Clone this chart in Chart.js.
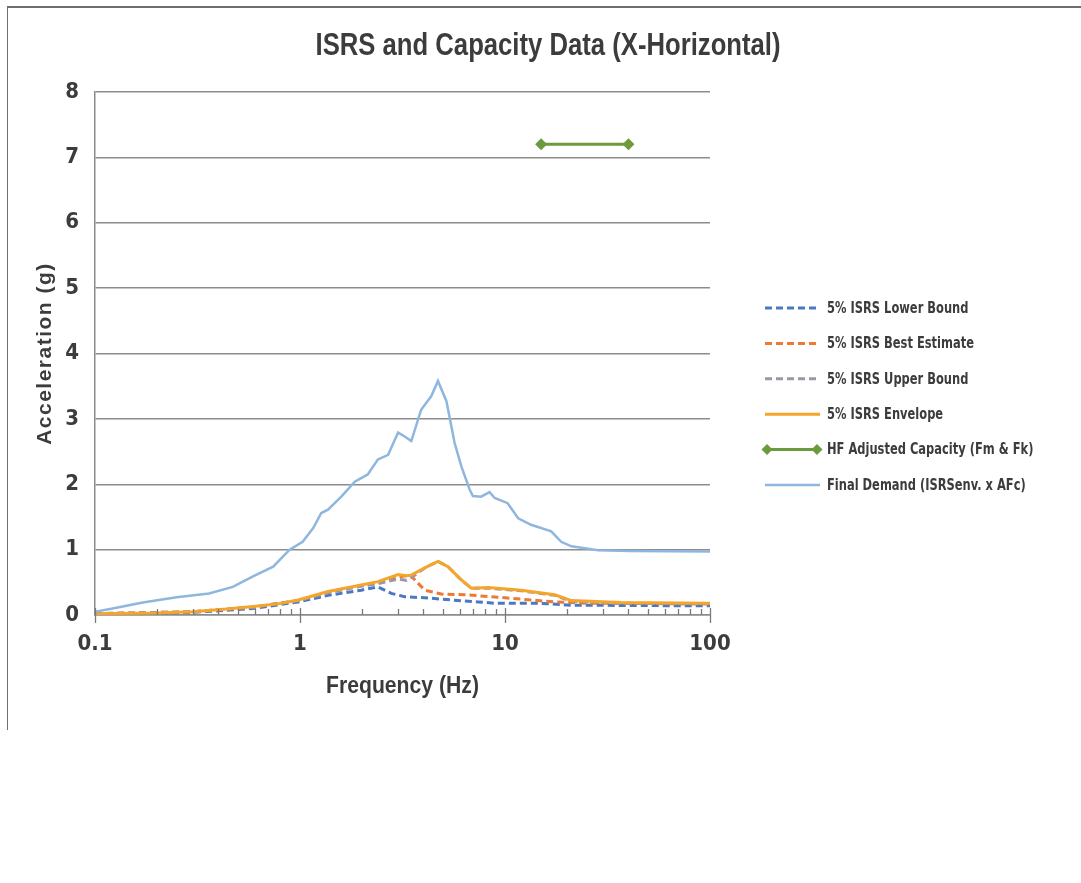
<!DOCTYPE html>
<html>
<head>
<meta charset="utf-8">
<title>ISRS and Capacity Data (X-Horizontal)</title>
<script src="https://cdn.jsdelivr.net/npm/chart.js@4.4.1/dist/chart.umd.min.js"></script>
<style>
  html, body { margin: 0; padding: 0; background: #ffffff; }
  #wrap { position: relative; width: 1081px; height: 883px; overflow: hidden; }
  #frame {
    position: absolute; left: 7px; top: 6px; width: 1074px; height: 724px;
    border-left: 1.5px solid #6e6e6e; border-top: 2px solid #6e6e6e; box-sizing: border-box;
  }
  #c { position: absolute; left: 0; top: 0; }
</style>
</head>
<body>
<div id="wrap">
  <div id="frame"></div>
  <canvas id="c" width="1081" height="883"></canvas>
</div>
<script>
// ---- labels ----
const chartTitle = 'ISRS and Capacity Data (X-Horizontal)';
const xAxisTitle = 'Frequency (Hz)';
const yAxisTitle = 'Acceleration (g)';
const xTickValues = [0.1, 1, 10, 100];
const yTickValues = [0, 1, 2, 3, 4, 5, 6, 7, 8];
const seriesNames = [
  '5% ISRS Lower Bound',
  '5% ISRS Best Estimate',
  '5% ISRS Upper Bound',
  '5% ISRS Envelope',
  'HF Adjusted Capacity (Fm & Fk)',
  'Final Demand (ISRSenv. x AFc)'
];

// ---- 5% ISRS lower bound ----
const lowerFreq = [0.1, 0.3, 0.59, 0.98, 1.37, 1.99, 2.4, 2.79, 3.24, 4.2, 5.47, 7.4, 8.9, 14.5, 21, 100];
const lowerAcc  = [0.01, 0.04, 0.10, 0.20, 0.30, 0.38, 0.43, 0.33, 0.28, 0.26, 0.23, 0.20, 0.18, 0.18, 0.15, 0.14];

// ---- 5% ISRS best estimate ----
const bestFreq = [0.1, 0.3, 0.59, 0.98, 1.37, 1.99, 2.4, 3.0, 3.45, 4.06, 4.89, 6.36, 8.6, 10.3, 17.5, 25.4, 100];
const bestAcc  = [0.02, 0.05, 0.12, 0.22, 0.35, 0.45, 0.50, 0.58, 0.61, 0.38, 0.32, 0.31, 0.28, 0.26, 0.20, 0.18, 0.17];

// ---- 5% ISRS upper bound ----
const upperFreq = [0.1, 0.3, 0.59, 0.98, 1.37, 1.99, 2.4, 3.0, 3.3, 3.6, 4.06, 4.71, 5.27, 6.01, 6.85, 8.3, 12, 17.5, 21.1, 36.7, 100];
const upperAcc  = [0.02, 0.05, 0.12, 0.22, 0.34, 0.44, 0.48, 0.55, 0.53, 0.60, 0.72, 0.82, 0.74, 0.56, 0.41, 0.41, 0.37, 0.30, 0.21, 0.18, 0.17];

// ---- 5% ISRS envelope ----
const envFreq = [0.1, 0.2, 0.3, 0.44, 0.59, 0.78, 0.98, 1.37, 1.99, 2.4, 3.01, 3.3, 3.49, 4.06, 4.71, 5.27, 6.01, 6.85, 8.3, 12.0, 17.5, 21.1, 36.7, 100];
const envAcc  = [0.02, 0.03, 0.05, 0.09, 0.13, 0.17, 0.23, 0.36, 0.46, 0.51, 0.62, 0.60, 0.61, 0.72, 0.82, 0.74, 0.56, 0.41, 0.42, 0.38, 0.31, 0.22, 0.19, 0.18];

// ---- HF adjusted capacity ----
const capFreq = [15, 40];
const capAcc  = [7.2, 7.2];

// ---- final demand ----
const demandFreq = [0.1, 0.122, 0.171, 0.25, 0.36, 0.47, 0.59, 0.74, 0.89, 1.03, 1.16, 1.27, 1.37, 1.59, 1.85, 2.14, 2.4, 2.69, 3.01, 3.24, 3.49, 3.9, 4.37, 4.71, 5.18, 5.68, 6.13, 6.72, 6.97, 7.64, 8.41, 8.91, 10.3, 11.6, 13.4, 16.8, 18.8, 21.1, 28.4, 41, 100];
const demandAcc  = [0.05, 0.10, 0.19, 0.27, 0.33, 0.43, 0.59, 0.74, 1.0, 1.12, 1.33, 1.56, 1.61, 1.81, 2.04, 2.15, 2.38, 2.45, 2.79, 2.73, 2.66, 3.14, 3.35, 3.58, 3.27, 2.63, 2.27, 1.92, 1.82, 1.81, 1.88, 1.79, 1.71, 1.48, 1.38, 1.28, 1.12, 1.05, 0.99, 0.98, 0.97];

// ---- styling ----
const NARROW = "'Liberation Sans Narrow', 'DejaVu Sans Condensed', 'Liberation Sans', sans-serif";
const SANS = "'Liberation Sans', Arial, sans-serif";
const TEXT = '#3c3c3c';
const GRID = '#8c8c8c';

function toPoints(freqs, accs) {
  return freqs.map((f, i) => ({ x: f, y: accs[i] }));
}

const datasets = [
  { label: seriesNames[0], data: toPoints(lowerFreq, lowerAcc), borderColor: '#4a78c2', borderWidth: 3, borderDash: [7, 4], pointRadius: 0, order: 6 },
  { label: seriesNames[1], data: toPoints(bestFreq, bestAcc), borderColor: '#ec7a35', borderWidth: 3, borderDash: [7, 4], pointRadius: 0, order: 5 },
  { label: seriesNames[2], data: toPoints(upperFreq, upperAcc), borderColor: '#9c97a6', borderWidth: 3, borderDash: [7, 4], pointRadius: 0, order: 4 },
  { label: seriesNames[3], data: toPoints(envFreq, envAcc), borderColor: '#f4a52a', borderWidth: 3, pointRadius: 0, order: 3 },
  { label: seriesNames[4], data: toPoints(capFreq, capAcc), borderColor: '#6e9a3e', backgroundColor: '#6e9a3e', borderWidth: 3, pointStyle: 'rectRot', pointRadius: 6, pointBorderWidth: 0, order: 1 },
  { label: seriesNames[5], data: toPoints(demandFreq, demandAcc), borderColor: '#8fb6dd', borderWidth: 2.5, pointRadius: 0, order: 2 }
];
datasets.forEach(d => { d.fill = false; d.tension = 0; d.showLine = true; });

// Draws a text line squeezed horizontally to a given width (narrow bold look).
function drawCondensed(ctx, text, cx, cy, font, width) {
  ctx.save();
  ctx.font = font;
  const w = ctx.measureText(text).width;
  ctx.translate(cx, cy);
  ctx.scale(width / w, 1);
  ctx.textAlign = 'center';
  ctx.textBaseline = 'middle';
  ctx.fillStyle = TEXT;
  ctx.fillText(text, 0, 0);
  ctx.restore();
}

// Chart title and axis titles.
const titles = {
  id: 'titles',
  afterDraw(chart) {
    const ctx = chart.ctx;
    const ca = chart.chartArea;
    drawCondensed(ctx, chartTitle, 548, 46, 'bold 31px ' + SANS, 465);
    drawCondensed(ctx, xAxisTitle, (ca.left + ca.right) / 2, 686, 'bold 24px ' + SANS, 153);
    ctx.save();
    ctx.translate(45, (ca.top + ca.bottom) / 2);
    ctx.rotate(-Math.PI / 2);
    ctx.font = 'bold 21px ' + SANS;
    if ('letterSpacing' in ctx) ctx.letterSpacing = '1.5px';
    ctx.fillStyle = TEXT;
    ctx.textAlign = 'center';
    ctx.textBaseline = 'middle';
    ctx.fillText(yAxisTitle, 0, 0);
    ctx.restore();
  }
};

// Log-axis tick marks: short inward marks at 2..9, longer crossing marks at decades.
const logTickMarks = {
  id: 'logTickMarks',
  afterDatasetsDraw(chart) {
    const x = chart.scales.x;
    const y0 = chart.chartArea.bottom;
    const ctx = chart.ctx;
    ctx.save();
    ctx.strokeStyle = '#7a7a7a';
    ctx.lineWidth = 1.3;
    ctx.beginPath();
    [0.1, 1, 10].forEach(d => {
      for (let k = 2; k <= 9; k++) {
        const px = Math.round(x.getPixelForValue(d * k)) + 0.5;
        ctx.moveTo(px, y0 - 6);
        ctx.lineTo(px, y0);
      }
    });
    xTickValues.forEach(v => {
      const px = Math.round(x.getPixelForValue(v)) + 0.5;
      ctx.moveTo(px, y0 - 7);
      ctx.lineTo(px, y0 + 8);
    });
    ctx.stroke();
    ctx.restore();
  }
};

// Legend drawn to the right of the plot.
const sideLegend = {
  id: 'sideLegend',
  afterDraw(chart) {
    const ctx = chart.ctx;
    const x0 = 765, x1 = 820, textX = 827;
    const top = 308, step = 35.4;
    ctx.save();
    chart.data.datasets.forEach((ds, i) => {
      const yy = top + i * step;
      ctx.strokeStyle = ds.borderColor;
      ctx.lineWidth = ds.borderWidth;
      ctx.setLineDash(ds.borderDash || []);
      ctx.beginPath();
      ctx.moveTo(x0, yy);
      ctx.lineTo(x1, yy);
      ctx.stroke();
      ctx.setLineDash([]);
      if (ds.pointStyle === 'rectRot') {
        ctx.fillStyle = ds.backgroundColor;
        [767, 817].forEach(px => {
          ctx.beginPath();
          ctx.moveTo(px, yy - 5.5);
          ctx.lineTo(px + 5.5, yy);
          ctx.lineTo(px, yy + 5.5);
          ctx.lineTo(px - 5.5, yy);
          ctx.closePath();
          ctx.fill();
        });
      }
      ctx.save();
      ctx.translate(textX, yy + 1);
      ctx.scale(0.85, 1);
      ctx.fillStyle = TEXT;
      ctx.font = 'bold 15px ' + NARROW;
      ctx.textAlign = 'left';
      ctx.textBaseline = 'middle';
      ctx.fillText(ds.label, 0, 0);
      ctx.restore();
    });
    ctx.restore();
  }
};

new Chart(document.getElementById('c'), {
  type: 'line',
  data: { datasets },
  options: {
    responsive: false,
    animation: false,
    devicePixelRatio: 1,
    layout: { padding: { left: 20, top: 92, right: 371, bottom: 168 } },
    plugins: {
      legend: { display: false },
      tooltip: { enabled: false },
      title: { display: false }
    },
    scales: {
      x: {
        type: 'logarithmic',
        min: 0.1,
        max: 100,
        position: 'bottom',
        grid: { display: false, drawTicks: false },
        border: { display: true, color: GRID, width: 1.5 },
        afterBuildTicks(scale) { scale.ticks = xTickValues.map(v => ({ value: v, major: true })); },
        afterFit(scale) { scale.height = 100; },
        ticks: {
          autoSkip: false,
          maxRotation: 0,
          padding: 16,
          color: TEXT,
          font: { family: NARROW, size: 22, weight: 'bold' },
          callback: (v) => String(v)
        },
        title: { display: false }
      },
      y: {
        type: 'linear',
        min: 0,
        max: 8,
        afterBuildTicks(scale) { scale.ticks = yTickValues.map(v => ({ value: v })); },
        afterFit(scale) { scale.width = 75; },
        grid: { color: GRID, lineWidth: 1.5, drawTicks: false },
        border: { display: true, color: GRID, width: 1.5 },
        ticks: {
          padding: 16,
          color: TEXT,
          font: { family: NARROW, size: 22, weight: 'bold' }
        }
      }
    }
  },
  plugins: [logTickMarks, titles, sideLegend]
});
</script>
</body>
</html>
